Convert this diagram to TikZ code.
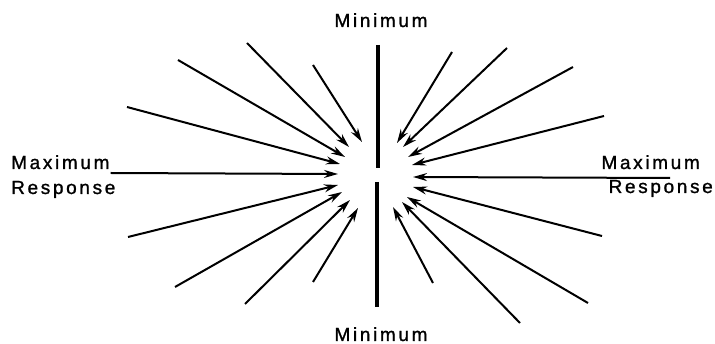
\documentclass[tikz,border=0pt]{standalone}
\usepackage{fontspec}
\setmainfont{Liberation Sans}[LetterSpace=14,FakeBold=1.2]
\usetikzlibrary{arrows.meta,calc}
\begin{document}
\begin{tikzpicture}[x=1pt,y=-1pt,
  ray/.style={line width=2pt,-{Stealth[length=14pt,width=8pt]}},
  bar/.style={line width=4pt},
  lbl/.style={inner sep=0pt,font=\fontsize{19}{21}\selectfont}]
\useasboundingbox (0,0) rectangle (715,344);
% labels
\node[lbl,anchor=base west] (lmax) at (11,169) {Maximum};
\node[lbl,anchor=base west] (lres) at (11,194) {Response};
\node[lbl,anchor=base east] (rmax) at (700,169) {Maximum};
\node[lbl,anchor=base east] (rres) at (713,193) {Response};
\node[lbl,anchor=base] (tmin) at (381,27) {Minimum};
\node[lbl,anchor=base] (bmin) at (381,341) {Minimum};
% bars
\coordinate (ub1) at (378,45); \coordinate (ub2) at (378,168);
\coordinate (lb1) at (377,182); \coordinate (lb2) at (377,307);
\draw[bar] (ub1) -- (ub2);
\draw[bar] (lb1) -- (lb2);
% left rays
\coordinate (ls1) at (247,43);  \coordinate (le1) at (349,147);
\coordinate (ls2) at (313,65);  \coordinate (le2) at (362,142);
\coordinate (ls3) at (178,60);  \coordinate (le3) at (345,157);
\coordinate (ls4) at (127,107); \coordinate (le4) at (340,164);
\coordinate (ls5) at ($(lmax.base east)+(1,4)$); \coordinate (le5) at (338,174);
\coordinate (ls6) at (128,237); \coordinate (le6) at (338,185);
\coordinate (ls7) at (175,287); \coordinate (le7) at (342,192);
\coordinate (ls8) at (245,304); \coordinate (le8) at (350,200);
\coordinate (ls9) at (313,282); \coordinate (le9) at (358,208);
\foreach \i in {1,...,9} {\draw[ray] (ls\i) -- (le\i);}
% right rays
\coordinate (rs1) at (452,52);  \coordinate (re1) at (397,143);
\coordinate (rs2) at (507,48);  \coordinate (re2) at (403,147);
\coordinate (rs3) at (573,67);  \coordinate (re3) at (408,157);
\coordinate (rs4) at (604,116); \coordinate (re4) at (412,165);
\coordinate (rs5) at (670,178); \coordinate (re5) at (413,177);
\coordinate (rs6) at (602,236); \coordinate (re6) at (413,187);
\coordinate (rs7) at (588,303); \coordinate (re7) at (407,197);
\coordinate (rs8) at (520,323); \coordinate (re8) at (402,202);
\coordinate (rs9) at (433,283); \coordinate (re9) at (393,207);
\foreach \i in {1,...,9} {\draw[ray] (rs\i) -- (re\i);}
\end{tikzpicture}
\end{document}
